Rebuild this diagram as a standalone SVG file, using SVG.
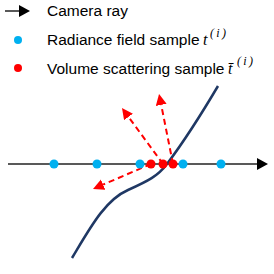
<svg xmlns="http://www.w3.org/2000/svg" width="274" height="274" viewBox="0 0 274 274">
<style>
.lbl{font-family:"Liberation Sans",Arial,sans-serif;font-size:15.5px;fill:#000}
.math{font-family:"Liberation Serif","Times New Roman",serif;font-style:italic;fill:#000}
.ray{stroke:#222;stroke-width:1.5;fill:none}
.scat{stroke:#FF0000;stroke-width:2;stroke-dasharray:6 4;fill:none}
.blue{fill:#00B0F0}
.red{fill:#FF0000}
</style>
<defs>
<marker id="blk" markerUnits="userSpaceOnUse" markerWidth="12" markerHeight="12" refX="0" refY="6" orient="auto"><path d="M0,0 L11,6 L0,12 z" fill="#000"/></marker>
<marker id="redh" markerUnits="userSpaceOnUse" markerWidth="12" markerHeight="12" refX="0" refY="5.5" orient="auto"><path d="M0,0 L11,5.5 L0,11 z" fill="#FF0000"/></marker>
</defs>
<g id="legend">
<line class="ray" x1="5" y1="11" x2="19" y2="11" marker-end="url(#blk)"/>
<text class="lbl" x="47" y="16">Camera ray</text>
<circle class="blue" cx="18" cy="40" r="4"/>
<text class="lbl" x="47" y="45">Radiance field sample</text>
<text class="math" x="203" y="45" font-size="16">t</text>
<text class="math" x="210" y="37" font-size="12" textLength="16" lengthAdjust="spacing">(i)</text>
<circle class="red" cx="18" cy="68" r="4"/>
<text class="lbl" x="47" y="74">Volume scattering sample</text>
<text class="math" x="228" y="74" font-size="16">t̄</text>
<text class="math" x="237" y="65" font-size="12" textLength="16" lengthAdjust="spacing">(i)</text>
</g>
<g id="connectors">
<line id="camera-ray" class="ray" x1="8" y1="164" x2="257" y2="164" marker-end="url(#blk)"/>
<path id="surface" d="M72,258 C90,228 105,200 128,190 C148,181 158,176 167,164 C185,140 205,108 218,86" stroke="#1F3864" stroke-width="2.5" fill="none"/>
<line class="scat" x1="151" y1="164" x2="103.1" y2="184.6" marker-end="url(#redh)"/>
<line class="scat" x1="163" y1="164" x2="128.5" y2="116.9" marker-end="url(#redh)"/>
<line class="scat" x1="173" y1="164" x2="161.2" y2="104.8" marker-end="url(#redh)"/>
</g>
<g id="radiance-samples">
<circle class="blue" cx="54" cy="164" r="4.5"/>
<circle class="blue" cx="97" cy="164" r="4.5"/>
<circle class="blue" cx="140" cy="164" r="4.5"/>
<circle class="blue" cx="183" cy="164" r="4.5"/>
<circle class="blue" cx="221" cy="164" r="4.5"/>
</g>
<g id="scattering-samples">
<circle class="red" cx="151" cy="164" r="4.5"/>
<circle class="red" cx="163" cy="164" r="4.5"/>
<circle class="red" cx="173" cy="164" r="4.5"/>
</g>
</svg>
